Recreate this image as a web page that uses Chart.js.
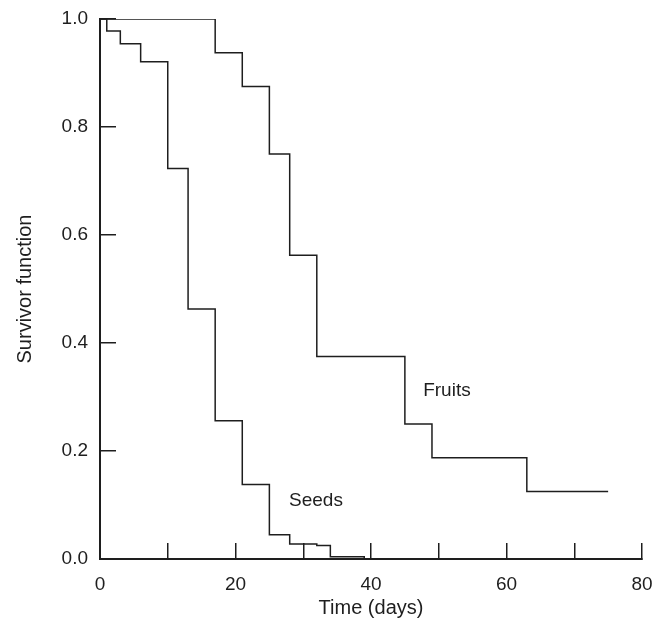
<!DOCTYPE html>
<html>
<head>
<meta charset="utf-8">
<script src="https://cdn.jsdelivr.net/npm/chart.js@4"></script>
<style>
  html, body { margin: 0; padding: 0; background: #fff; }
  #wrap { width: 663px; height: 630px; position: relative; }
</style>
</head>
<body>
<div id="wrap"><canvas id="c" width="663" height="630"></canvas></div>
<script>
// Kaplan-Meier survivor function (time in days)
const seedTimes  = [0, 1, 3, 6, 10, 13, 17, 21, 25, 28, 32, 34, 39];
const seedValues = [1.0, 0.978, 0.954, 0.921, 0.723, 0.463, 0.256, 0.138, 0.045, 0.028, 0.025, 0.004, 0.0];
const fruitTimes  = [0, 17, 21, 25, 28, 32, 45, 49, 63, 75];
const fruitValues = [1.0, 0.9375, 0.875, 0.75, 0.5625, 0.375, 0.25, 0.1875, 0.125, 0.125];
const xTickLabels = ['0', '20', '40', '60', '80'];
const yTickLabels = ['0.0', '0.2', '0.4', '0.6', '0.8', '1.0'];
const seriesNames = ['Seeds', 'Fruits'];
const labelAnchors = [[27.9, 0.108], [47.7, 0.311]]; // day, survivor value where curve names sit

const INK = '#1e1e1e';
const FONT = '"Liberation Sans", Arial, Helvetica, sans-serif';

const toPts = (xs, ys) => xs.map((x, i) => ({ x: x, y: ys[i] }));

const curveLabels = {
  id: 'curveLabels',
  afterDatasetsDraw(chart) {
    const { ctx, scales: { x, y } } = chart;
    ctx.save();
    ctx.fillStyle = INK;
    ctx.font = '19px ' + FONT;
    ctx.textAlign = 'left';
    ctx.textBaseline = 'middle';
    seriesNames.forEach((n, i) => {
      ctx.fillText(n, x.getPixelForValue(labelAnchors[i][0]), y.getPixelForValue(labelAnchors[i][1]));
    });
    ctx.restore();
  }
};

const zeroPad = s => { s.paddingTop = 0; s.paddingBottom = 0; s.paddingLeft = 0; s.paddingRight = 0; };

new Chart(document.getElementById('c'), {
  type: 'line',
  data: {
    datasets: [
      { label: seriesNames[0], data: toPts(seedTimes, seedValues) },
      { label: seriesNames[1], data: toPts(fruitTimes, fruitValues) }
    ].map(d => Object.assign(d, {
      stepped: true, borderColor: INK, borderWidth: 1.5, pointRadius: 0,
      fill: false, tension: 0
    }))
  },
  options: {
    responsive: false,
    animation: false,
    devicePixelRatio: 1,
    layout: { autoPadding: false, padding: { left: 0, top: 19, right: 21, bottom: 0 } },
    plugins: { legend: { display: false }, tooltip: { enabled: false } },
    scales: {
      x: {
        type: 'linear', min: 0, max: 80,
        border: { display: true, color: INK, width: 2 },
        grid: { drawOnChartArea: false, drawTicks: true, tickLength: -16, color: INK, lineWidth: 1.5 },
        ticks: {
          stepSize: 10, padding: 30.5, color: INK, maxRotation: 0, autoSkip: false,
          font: { family: FONT, size: 19 },
          callback: v => { const s = String(v); return xTickLabels.includes(s) ? s : ''; }
        },
        title: { display: true, text: 'Time (days)', color: INK, font: { family: FONT, size: 20 }, padding: { top: 0, bottom: 10 } },
        afterFit: s => { s.height = 71; zeroPad(s); }
      },
      y: {
        type: 'linear', min: 0, max: 1,
        border: { display: true, color: INK, width: 2 },
        grid: { drawOnChartArea: false, drawTicks: true, tickLength: -16, color: INK, lineWidth: 1.5 },
        ticks: {
          stepSize: 0.2, padding: 28, color: INK,
          font: { family: FONT, size: 19 },
          callback: v => yTickLabels[Math.round(v * 5)]
        },
        title: { display: true, text: 'Survivor function', color: INK, font: { family: FONT, size: 20 }, padding: { top: 13, bottom: 0 } },
        afterFit: s => { s.width = 100; zeroPad(s); }
      }
    }
  },
  plugins: [curveLabels]
});
</script>
</body>
</html>
